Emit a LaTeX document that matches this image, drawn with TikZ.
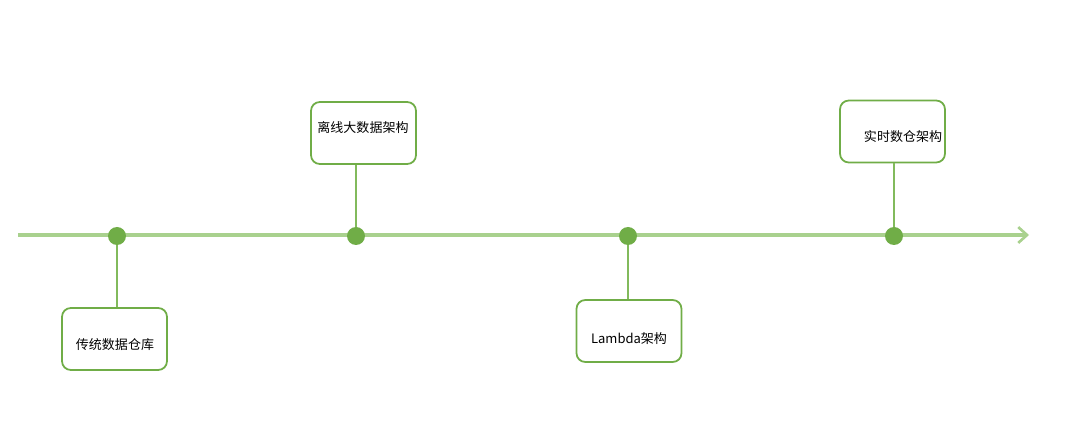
\documentclass[tikz,border=0pt]{standalone}
\usepackage{fontspec}
\setmainfont{Noto Sans CJK SC}
\usetikzlibrary{positioning,arrows.meta,calc}
\definecolor{axisgreen}{RGB}{169,209,142}
\definecolor{dotgreen}{RGB}{112,173,71}
\definecolor{linegreen}{RGB}{130,186,92}

\begin{document}
\begin{tikzpicture}[x=0.02cm,y=-0.02cm,
    stage/.style={draw=dotgreen,line width=1pt,rounded corners=5pt,fill=white,
      minimum width=2.1cm,minimum height=1.24cm,inner sep=0pt},
    stagetext/.style={font=\fontsize{7.4}{8}\selectfont,inner sep=0pt},
    milestone/.style={circle,fill=dotgreen,minimum size=0.36cm,inner sep=0pt},
    stem/.style={linegreen,line width=1pt}]
  \useasboundingbox (0,0) rectangle (1080,435);
  % time axis
  \coordinate (start) at (18,235);
  \coordinate (end) at (1029,235);
  \draw[axisgreen,line width=2.1pt,-{Straight Barb[length=5pt,width=9pt,line width=1.5pt]}] (start) -- (end);
  % milestones
  \node[milestone] (d1) at (117,236) {};
  \node[milestone] (d2) at (356,236) {};
  \node[milestone] (d3) at (628,236) {};
  \node[milestone] (d4) at (894,236) {};
  % boxes
  \node[stage] (b1) at (114.5,339) {};
  \node[stage] (b2) at (363.5,133) {};
  \node[stage] (b3) at (629,331) {};
  \node[stage] (b4) at (892.5,131.5) {};
  \node[stagetext] (t1) at (115,345) {传统数据仓库};
  \node[stagetext] (t2) at (363,128) {离线大数据架构};
  \node[stagetext] (t3) at (629,339) {Lambda架构};
  \node[stagetext] (t4) at (903,137) {实时数仓架构};
  % stems
  \draw[stem] (d1) -- (d1 |- b1.north);
  \draw[stem] (d2) -- (d2 |- b2.south);
  \draw[stem] (d3) -- (d3 |- b3.north);
  \draw[stem] (d4) -- (d4 |- b4.south);
\end{tikzpicture}
\end{document}
